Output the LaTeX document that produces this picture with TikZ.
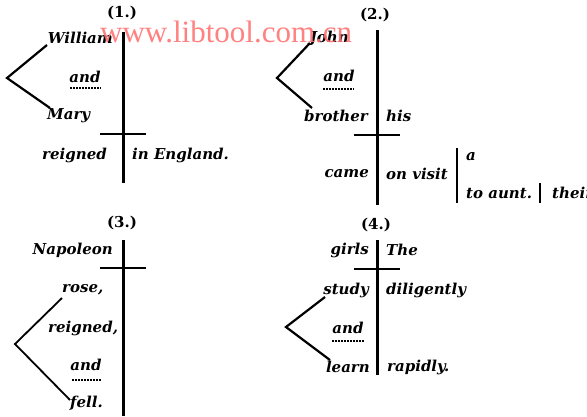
\documentclass[tikz,border=0pt]{standalone}
\usepackage{fontspec}
\newfontfamily\wmfont{Liberation Serif}
\newfontfamily\dvfont{DejaVu Serif}
\begin{document}
\begin{tikzpicture}[x=1pt,y=-1pt,
  wd/.style={font=\dvfont\fontsize{15}{17}\selectfont\bfseries\itshape, inner sep=0pt},
  num/.style={font=\dvfont\fontsize{15}{17}\selectfont\bfseries, inner sep=0pt},
  stem/.style={line width=3pt},
  crossbar/.style={line width=1.5pt},
  brk/.style={line width=2.2pt},
  thinbar/.style={line width=2pt},
  dotl/.style={line width=1.2pt, dash pattern=on 1.5pt off 1.5pt},
  wm/.style={font=\wmfont\fontsize{31}{34}\selectfont, text=red!55, opacity=0.9, inner sep=0pt}]
\useasboundingbox (0,0) rectangle (587,416);
% ---------- (1.)
\node[num] (n1) at (122,13) {(1.)};
\coordinate (v1t) at (123,32); \coordinate (v1b) at (123,183);
\draw[stem] (v1t) -- (v1b);
\coordinate (h1l) at (100,134); \coordinate (h1r) at (146,134);
\draw[crossbar] (h1l) -- (h1r);
\node[wd, anchor=east] (william) at (113,38) {William};
\node[wd] (and1) at (85,77) {and};
\coordinate (d1l) at (70,88); \coordinate (d1r) at (101,88);
\draw[dotl] (d1l) -- (d1r);
\node[wd, anchor=west] (mary) at (47,116) {Mary};
\node[wd, anchor=east] (reigned1) at (107,155) {reigned};
\node[wd, anchor=west] (ineng) at (132,155) {in England.};
\coordinate (b1a) at (47,45); \coordinate (b1v) at (7,78); \coordinate (b1b) at (50,108);
\draw[brk] (b1a) -- (b1v) -- (b1b);
% ---------- (2.)
\node[num] (n2) at (375,15) {(2.)};
\coordinate (v2t) at (377,30); \coordinate (v2b) at (377,205);
\draw[stem] (v2t) -- (v2b);
\coordinate (h2l) at (354,135); \coordinate (h2r) at (400,135);
\draw[crossbar] (h2l) -- (h2r);
\node[wd, anchor=east] (john) at (349,38) {John};
\node[wd] (and2) at (339,76) {and};
\coordinate (d2l) at (323,89); \coordinate (d2r) at (354,89);
\draw[dotl] (d2l) -- (d2r);
\node[wd, anchor=east] (brother) at (368,116) {brother};
\node[wd, anchor=west] (his) at (386,116) {his};
\node[wd, anchor=east] (came) at (369,174) {came};
\node[wd, anchor=west] (onvisit) at (386,174) {on visit};
\coordinate (s2t) at (457,148); \coordinate (s2b) at (457,203);
\draw[thinbar] (s2t) -- (s2b);
\node[wd, anchor=west] (a2) at (466,157) {a};
\node[wd, anchor=west] (toaunt) at (466,193) {to aunt.};
\coordinate (u2t) at (540,183); \coordinate (u2b) at (540,203);
\draw[thinbar] (u2t) -- (u2b);
\node[wd, anchor=west] (their) at (552,193) {their};
\coordinate (b2a) at (310,43); \coordinate (b2v) at (277,78); \coordinate (b2b) at (312,108);
\draw[brk] (b2a) -- (b2v) -- (b2b);
% ---------- (3.)
\node[num] (n3) at (122,223) {(3.)};
\coordinate (v3t) at (123,240); \coordinate (v3b) at (123,416);
\draw[stem] (v3t) -- (v3b);
\coordinate (h3l) at (100,268); \coordinate (h3r) at (146,268);
\draw[crossbar] (h3l) -- (h3r);
\node[wd, anchor=east] (napoleon) at (113,250) {Napoleon};
\node[wd, anchor=west] (rose) at (62,290) {rose,};
\node[wd, anchor=west] (reigned3) at (48,328) {reigned,};
\node[wd] (and3) at (86,365) {and};
\coordinate (d3l) at (72,380); \coordinate (d3r) at (101,380);
\draw[dotl] (d3l) -- (d3r);
\node[wd, anchor=west] (fell) at (70,403) {fell.};
\coordinate (b3a) at (62,298); \coordinate (b3v) at (15,344); \coordinate (b3b) at (70,400);
\draw[brk, line width=1.8pt] (b3a) -- (b3v) -- (b3b);
% ---------- (4.)
\node[num] (n4) at (376,225) {(4.)};
\coordinate (v4t) at (377,240); \coordinate (v4b) at (377,375);
\draw[stem] (v4t) -- (v4b);
\coordinate (h4l) at (354,269); \coordinate (h4r) at (400,269);
\draw[crossbar] (h4l) -- (h4r);
\node[wd, anchor=east] (girls) at (369,250) {girls};
\node[wd, anchor=west] (the) at (386,250) {The};
\node[wd, anchor=east] (study) at (369,290) {study};
\node[wd, anchor=west] (dilig) at (386,290) {diligently};
\node[wd] (and4) at (348,328) {and};
\coordinate (d4l) at (332,341); \coordinate (d4r) at (365,341);
\draw[dotl] (d4l) -- (d4r);
\node[wd, anchor=east] (learn) at (370,367) {learn};
\node[wd, anchor=west] (rapidly) at (387,367) {rapidly.};
\coordinate (b4a) at (325,297); \coordinate (b4v) at (286,327); \coordinate (b4b) at (330,360);
\draw[brk] (b4a) -- (b4v) -- (b4b);
% ---------- watermark
\node[wm, anchor=base west] (wmk) at (100,42) {www.libtool.com.cn};
\end{tikzpicture}
\end{document}
